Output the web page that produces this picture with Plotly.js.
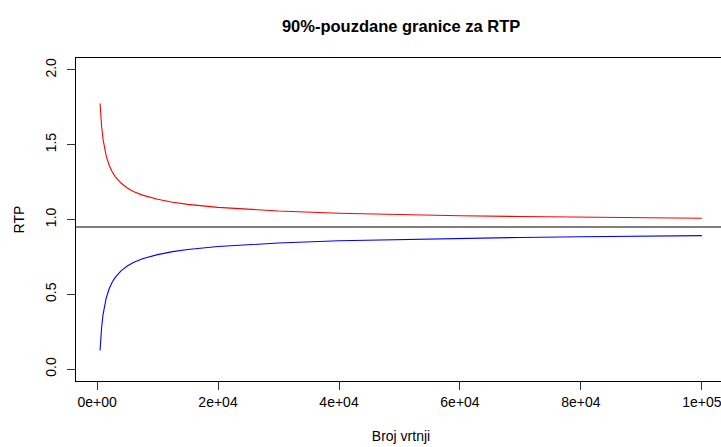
<!DOCTYPE html>
<html>
<head>
<meta charset="utf-8">
<script src="https://cdn.plot.ly/plotly-3.0.1.min.js"></script>
<style>
html,body{margin:0;padding:0;overflow:hidden;background:#fff;}
#chart{width:728px;height:447px;}
</style>
</head>
<body>
<div id="chart"></div>
<script>
// Number of spins (Broj vrtnji)
var spins = [500, 600, 750, 1000, 1250, 1500, 2000, 2500, 3000, 4000, 5000, 6000, 7500,
             10000, 12500, 15000, 20000, 25000, 30000, 40000, 50000, 60000, 70000, 80000, 90000, 100000];
// Upper 90% confidence bound (red)
var upperBound = [1.776, 1.704, 1.624, 1.534, 1.472, 1.427, 1.363, 1.319, 1.287, 1.242, 1.211, 1.188, 1.163,
                  1.135, 1.115, 1.101, 1.081, 1.067, 1.057, 1.042, 1.033, 1.025, 1.020, 1.015, 1.012, 1.008];
// Lower 90% confidence bound (blue)
var lowerBound = [0.124, 0.196, 0.276, 0.366, 0.428, 0.473, 0.537, 0.581, 0.613, 0.658, 0.689, 0.712, 0.737,
                  0.765, 0.785, 0.799, 0.819, 0.833, 0.843, 0.858, 0.867, 0.875, 0.880, 0.885, 0.888, 0.892];
// Theoretical RTP (horizontal reference line)
var rtpValue = 0.95;

var xTickVals = [0, 20000, 40000, 60000, 80000, 100000];
var xTickText = ['0e+00', '2e+04', '4e+04', '6e+04', '8e+04', '1e+05'];
var yTickVals = [0, 0.5, 1, 1.5, 2];
var yTickText = ['0.0', '0.5', '1.0', '1.5', '2.0'];

var fontFam = '"Liberation Sans", Arial, sans-serif';

var traces = [
  {x: spins, y: upperBound, type: 'scatter', mode: 'lines', name: 'gornja granica',
   line: {color: '#ff0000', width: 1.1}, hoverinfo: 'x+y'},
  {x: spins, y: lowerBound, type: 'scatter', mode: 'lines', name: 'donja granica',
   line: {color: '#0000ff', width: 1.1}, hoverinfo: 'x+y'}
];

var layout = {
  width: 728, height: 447,
  paper_bgcolor: '#ffffff', plot_bgcolor: '#ffffff',
  showlegend: false,
  margin: {l: 76, r: 2, t: 58, b: 66, pad: 0},
  font: {family: fontFam, size: 14, color: '#000'},
  title: {text: '<b>90%-pouzdane granice za RTP</b>', font: {family: fontFam, size: 16.5, color: '#000'},
          x: 0.551, xanchor: 'center', xref: 'container', y: 1 - 26/447, yanchor: 'middle', yref: 'container'},
  xaxis: {
    range: [-3480, 103980], tickmode: 'array', tickvals: xTickVals, ticktext: xTickText,
    ticks: 'outside', ticklen: 8, tickcolor: '#333', tickwidth: 1,
    showline: true, linecolor: '#000', linewidth: 1, mirror: true,
    showgrid: false, zeroline: false,
    tickfont: {family: fontFam, size: 14, color: '#000'},
    title: {text: 'Broj vrtnji', font: {family: fontFam, size: 14, color: '#000'}, standoff: 22}
  },
  yaxis: {
    range: [-0.08, 2.08], tickmode: 'array', tickvals: yTickVals, ticktext: yTickText,
    ticks: 'outside', ticklen: 8, tickcolor: '#333', tickwidth: 1, tickangle: -90,
    ticklabelstandoff: 5,
    showline: true, linecolor: '#000', linewidth: 1, mirror: true,
    showgrid: false, zeroline: false,
    tickfont: {family: fontFam, size: 14, color: '#000'},
    title: {text: 'RTP', font: {family: fontFam, size: 14, color: '#000'}, standoff: 15}
  },
  shapes: [
    {type: 'line', xref: 'paper', yref: 'y', x0: 0, x1: 1, y0: rtpValue, y1: rtpValue,
     line: {color: '#555555', width: 1.4}}
  ]
};

Plotly.newPlot('chart', traces, layout, {displayModeBar: false, staticPlot: true});
</script>
</body>
</html>
